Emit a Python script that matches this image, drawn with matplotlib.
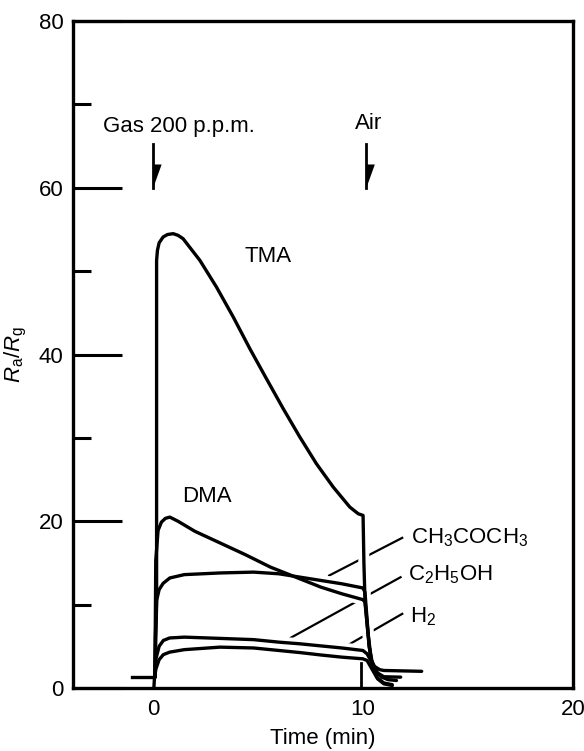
import matplotlib
matplotlib.use('Agg')
import matplotlib.pyplot as plt

plt.rcParams['font.family'] = ['Liberation Sans', 'DejaVu Sans']
plt.rcParams['mathtext.fontset'] = 'custom'
plt.rcParams['mathtext.rm'] = 'Liberation Sans'
plt.rcParams['mathtext.it'] = 'Liberation Sans:italic'
plt.rcParams['mathtext.bf'] = 'Liberation Sans:bold'

# baseline before gas in (air), min / Ra/Rg
base_t = [-1.0, 0.05]
base_v = [1.3, 1.3]

tma_t = [0.1, 0.18, 0.18, 0.22, 0.3, 0.49, 0.7, 0.97, 1.2, 1.44, 2.24, 3.03, 3.83, 4.62, 5.41, 6.21, 7.0, 7.79,
         8.59, 9.38, 9.78, 10.01, 10.05, 10.1, 10.25, 10.4, 10.55, 10.8, 11.0, 12.8]
tma_v = [1.3, 10.0, 51.3, 52.5, 53.4, 54.1, 54.4, 54.5, 54.3, 53.9, 51.3, 48.1, 44.5, 40.7, 37.1, 33.5, 30.1, 26.9,
         24.1, 21.7, 20.9, 20.7, 15.0, 10.6, 6.5, 3.4, 2.6, 2.2, 2.1, 2.0]

dma_t = [0.1, 0.12, 0.14, 0.25, 0.41, 0.6, 0.81, 1.2, 2.0, 3.2, 4.4, 5.6, 7.0, 8.0, 9.0, 10.0,
         10.1, 10.3, 10.45, 10.7, 11.0, 11.8]
dma_v = [1.3, 8.0, 15.3, 18.9, 19.9, 20.35, 20.5, 20.0, 18.8, 17.4, 16.0, 14.5, 13.1, 12.1, 11.3, 10.6,
         10.3, 5.0, 3.0, 1.8, 1.35, 1.3]

acetone_t = [0.1, 0.12, 0.18, 0.3, 0.49, 0.81, 1.5, 3.2, 4.8, 6.0, 7.0, 8.0, 9.0, 10.0,
             10.1, 10.3, 10.45, 10.7, 11.0, 11.4]
acetone_v = [1.3, 6.0, 10.5, 11.8, 12.55, 13.2, 13.6, 13.8, 13.9, 13.7, 13.3, 12.9, 12.5, 12.0,
             11.5, 5.0, 2.5, 1.2, 0.6, 0.4]

ethanol_t = [0.1, 0.15, 0.3, 0.5, 0.8, 1.5, 3.2, 4.8, 6.0, 7.0, 8.0, 9.0, 10.0,
             10.2, 10.4, 10.6, 10.9, 11.2, 11.6]
ethanol_v = [1.3, 3.5, 5.0, 5.7, 6.0, 6.1, 5.95, 5.8, 5.5, 5.3, 5.05, 4.8, 4.5,
             4.1, 3.2, 2.0, 1.3, 1.0, 0.9]

h2_t = [0.05, 0.08, 0.15, 0.3, 0.5, 0.8, 1.5, 3.2, 4.8, 6.0, 7.0, 8.0, 9.0, 10.0,
        10.2, 10.45, 10.7, 11.0, 11.4]
h2_v = [0.0, 1.3, 2.3, 3.4, 4.0, 4.3, 4.6, 4.9, 4.8, 4.5, 4.25, 3.96, 3.7, 3.5,
        3.3, 2.2, 1.1, 0.5, 0.3]

# short vertical mark at air-in
air_mark_t = [9.9, 9.9]
air_mark_v = [3.0, 0.0]

# label pointer lines (start, end)
pointer_labels = ['CH$_3$COCH$_3$', 'C$_2$H$_5$OH', 'H$_2$']
pointer_t0 = [11.92, 11.84, 11.92]
pointer_v0 = [18.07, 13.35, 8.96]
pointer_t1 = [8.35, 6.52, 9.3]
pointer_v1 = [13.43, 5.96, 5.16]
label_t = [12.27, 12.14, 12.24]
label_v = [17.4, 12.95, 7.83]

# event arrows
arrow_text = ['Gas 200 p.p.m.', 'Air']
arrow_text_t = [-2.38, 9.62]
arrow_text_v = [66.7, 67.0]
arrow_t = [0.02, 10.17]
arrow_top = 65.3
arrow_head = 62.8
arrow_bottom = 60.0
head_w = 0.4

curves = [(tma_t, tma_v), (dma_t, dma_v), (acetone_t, acetone_v), (ethanol_t, ethanol_v), (h2_t, h2_v)]

fs = 16

fig = plt.figure(figsize=(5.84, 7.51), dpi=100)
ax = fig.add_axes([0.125, 0.0839, 0.856, 0.888])

for i in range(len(pointer_labels)):
    ax.plot([pointer_t0[i], pointer_t1[i]], [pointer_v0[i], pointer_v1[i]], color='black', lw=1.6, zorder=1,
            solid_capstyle='butt')
    ax.text(label_t[i], label_v[i], pointer_labels[i], fontsize=fs, ha='left', va='baseline')

# white halo so pointer lines break where they cross the curves
for t, v in curves:
    ax.plot(t, v, color='white', lw=8, zorder=2, solid_joinstyle='round', solid_capstyle='round')
for t, v in curves:
    ax.plot(t, v, color='black', lw=2.4, zorder=3, solid_joinstyle='round', solid_capstyle='round')
ax.plot(base_t, base_v, color='black', lw=2.4, zorder=3)
ax.plot(air_mark_t, air_mark_v, color='black', lw=2.0, zorder=3)

ax.text(4.38, 51.1, 'TMA', fontsize=fs, ha='left', va='baseline')
ax.text(1.40, 22.3, 'DMA', fontsize=fs, ha='left', va='baseline')

for i in range(len(arrow_text)):
    ax.text(arrow_text_t[i], arrow_text_v[i], arrow_text[i], fontsize=fs, ha='left', va='baseline')
    ax.plot([arrow_t[i], arrow_t[i]], [arrow_top, arrow_bottom], color='black', lw=2.0)
    ax.fill([arrow_t[i], arrow_t[i] + head_w, arrow_t[i]], [arrow_head, arrow_head, arrow_bottom],
            color='black', lw=0)

ax.set_xlim(-3.8, 20)
ax.set_ylim(0, 80)
ax.set_xticks([0, 10, 20])
ax.set_yticks([0, 20, 40, 60, 80])
ax.set_yticks([10, 30, 50, 70], minor=True)
ax.tick_params(axis='x', length=0, pad=8, labelsize=fs)
ax.tick_params(axis='y', which='major', direction='in', length=35, width=2.2, pad=7, labelsize=fs)
ax.tick_params(axis='y', which='minor', direction='in', length=13, width=2.2)
for s in ax.spines.values():
    s.set_linewidth(2.4)

ax.set_xlabel('Time (min)', fontsize=fs, labelpad=6)
ax.set_ylabel(r'$R_\mathrm{a}/R_\mathrm{g}$', fontsize=fs)
ax.yaxis.set_label_coords(-0.088, 0.5)

fig.savefig('out.png', dpi=100)
